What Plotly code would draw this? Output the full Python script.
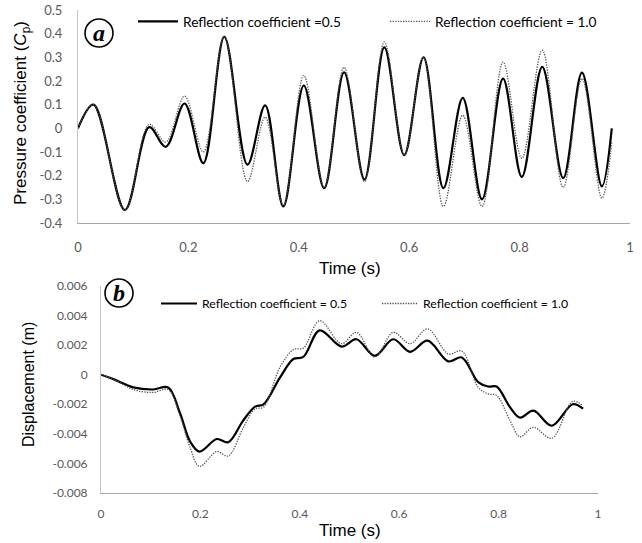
import plotly.graph_objects as go

W, H = 642, 543

# ---------- Panel (a): pressure coefficient ----------
time_a = [0, 0.028, 0.085, 0.129, 0.159, 0.193, 0.227, 0.265, 0.307, 0.339, 0.372,
          0.409, 0.446, 0.482, 0.519, 0.555, 0.591, 0.626, 0.662, 0.697, 0.732,
          0.770, 0.804, 0.841, 0.879, 0.913, 0.949, 0.967]
cp_r05 = [0, 0.10, -0.345, 0.005, -0.078, 0.105, -0.147, 0.387, -0.153, 0.097, -0.33,
          0.181, -0.253, 0.237, -0.216, 0.342, -0.113, 0.30, -0.253, 0.129, -0.30,
          0.21, -0.205, 0.26, -0.21, 0.235, -0.245, 0.0]
cp_r10 = [0, 0.10, -0.345, 0.017, -0.058, 0.136, -0.10, 0.39, -0.225, 0.047, -0.325,
          0.223, -0.25, 0.258, -0.225, 0.365, -0.113, 0.30, -0.33, 0.055, -0.33,
          0.28, -0.127, 0.33, -0.25, 0.21, -0.295, -0.06]

# ---------- Panel (b): displacement ----------
time_b = [0, 0.025, 0.065, 0.105, 0.135, 0.159, 0.179, 0.198, 0.233, 0.256, 0.286,
          0.31, 0.327, 0.36, 0.387, 0.407, 0.44, 0.484, 0.514, 0.551, 0.588, 0.622,
          0.657, 0.699, 0.726, 0.759, 0.779, 0.796, 0.823, 0.843, 0.87, 0.907, 0.949, 0.970]
disp_r05 = [0, -0.0003, -0.00086, -0.001, -0.00086, -0.0026, -0.0045, -0.0052, -0.00435,
            -0.00457, -0.0031, -0.00216, -0.002, -0.0002, 0.00106, 0.0012, 0.003, 0.0019,
            0.0024, 0.00128, 0.0024, 0.00155, 0.0023, 0.0009, 0.00117, -0.0005, -0.0008,
            -0.0008, -0.0022, -0.0029, -0.00243, -0.00345, -0.002, -0.0023]
disp_r10 = [0, -0.0003, -0.001, -0.0012, -0.001, -0.0028, -0.0049, -0.0062, -0.0052,
            -0.0055, -0.0036, -0.0023, -0.0022, 0.0005, 0.0017, 0.0018, 0.00365, 0.0021,
            0.00286, 0.0012, 0.00286, 0.0021, 0.0031, 0.0014, 0.0016, -0.00086, -0.0013,
            -0.0014, -0.0031, -0.0042, -0.00356, -0.0043, -0.0018, -0.0021]

series_names = ["Reflection coefficient =0.5", "Reflection coefficient = 1.0"]
series_names_b = ["Reflection coefficient = 0.5", "Reflection coefficient = 1.0"]

x_ticks = [0, 0.2, 0.4, 0.6, 0.8, 1]
x_ticktext = ["0", "0.2", "0.4", "0.6", "0.8", "1"]
ya_ticks = [0.5, 0.4, 0.3, 0.2, 0.1, 0, -0.1, -0.2, -0.3, -0.4]
ya_ticktext = ["0.5", "0.4", "0.3", "0.2", "0.1", "0", "-0.1", "-0.2", "-0.3", "-0.4"]
yb_ticks = [0.006, 0.004, 0.002, 0, -0.002, -0.004, -0.006, -0.008]
yb_ticktext = ["0.006", "0.004", "0.002", "0", "-0.002", "-0.004", "-0.006", "-0.008"]

SOLID = dict(color="#000000", width=2.2, shape="spline", smoothing=1.0)
DOT = dict(color="#555555", width=1.3, dash="1.3px,1.3px", shape="spline", smoothing=1.0)

fig = go.Figure()
fig.add_trace(go.Scatter(x=time_a, y=cp_r05, mode="lines", name=series_names[0],
                         line=SOLID, xaxis="x", yaxis="y", legend="legend"))
fig.add_trace(go.Scatter(x=time_a, y=cp_r10, mode="lines", name=series_names[1],
                         line=DOT, xaxis="x", yaxis="y", legend="legend"))
fig.add_trace(go.Scatter(x=time_b, y=disp_r05, mode="lines", name=series_names_b[0],
                         line=SOLID, xaxis="x2", yaxis="y2", legend="legend2"))
fig.add_trace(go.Scatter(x=time_b, y=disp_r10, mode="lines", name=series_names_b[1],
                         line=DOT, xaxis="x2", yaxis="y2", legend="legend2"))

def px_x(p):
    return p / W

def px_y(p):
    return 1 - p / H

tickfont_a = dict(family="Lato", size=13, color="#595959")
tickfont_b = dict(family="Lato", size=12, color="#595959")

common = dict(showgrid=False, zeroline=False, showline=True, linewidth=1, ticks="",
              automargin=False)

fig.update_layout(
    template="none",
    width=W, height=H,
    margin=dict(l=0, r=0, t=0, b=0, autoexpand=False),
    paper_bgcolor="white", plot_bgcolor="white",
    xaxis=dict(domain=[px_x(78), px_x(630)], range=[0, 1], anchor="y",
               tickvals=x_ticks, ticktext=x_ticktext, tickfont=tickfont_a,
               linecolor="#a6a6a6", ticklabelstandoff=12, **common),
    yaxis=dict(domain=[px_y(223), px_y(10)], range=[-0.4, 0.5], anchor="x",
               tickvals=ya_ticks, ticktext=ya_ticktext, tickfont=tickfont_a,
               linecolor="#c8c8c8", ticklabelstandoff=12, **common),
    xaxis2=dict(domain=[px_x(101), px_x(598)], range=[0, 1], anchor="y2",
                tickvals=x_ticks, ticktext=x_ticktext, tickfont=tickfont_b,
                linecolor="#a6a6a6", ticklabelstandoff=10, **common),
    yaxis2=dict(domain=[px_y(493), px_y(286)], range=[-0.008, 0.006], anchor="x2",
                tickvals=yb_ticks, ticktext=yb_ticktext, tickfont=tickfont_b,
                linecolor="#c8c8c8", ticklabelstandoff=10, **common),
    legend=dict(orientation="h", x=px_x(133), y=px_y(6), xanchor="left", yanchor="top",
                font=dict(family="Lato", size=13.7, color="#000"), itemwidth=40,
                bgcolor="rgba(0,0,0,0)", entrywidth=197, entrywidthmode="pixels"),
    legend2=dict(orientation="h", x=px_x(156), y=px_y(289), xanchor="left", yanchor="top",
                 font=dict(family="Lato", size=12.3, color="#000"), itemwidth=36,
                 bgcolor="rgba(0,0,0,0)", entrywidth=170, entrywidthmode="pixels"),
    showlegend=True,
)

def ann(text, x, y, size, angle=0, family="Liberation Sans"):
    return dict(text=text, x=px_x(x), y=px_y(y), xref="paper", yref="paper",
                xanchor="center", yanchor="middle", textangle=angle, showarrow=False,
                font=dict(family=family, size=size, color="#000"))

annotations = [
    ann("Time (s)", 350, 268, 17),
    ann("Time (s)", 350, 530, 17),
    ann("Pressure coefficient (<i>C</i><sub>p</sub>)", 22, 113, 17, -90),
    ann("Displacement (m)", 28, 385, 16, -90),
    ann("<b><i>a</i></b>", 99, 33, 24, family="Liberation Serif"),
    ann("<b><i>b</i></b>", 119, 293, 24, family="Liberation Serif"),
]
fig.update_layout(annotations=annotations)

r = 14
shapes = []
for cx, cy in [(99, 33), (119, 293)]:
    shapes.append(dict(type="circle", xref="paper", yref="paper",
                       x0=px_x(cx - r), x1=px_x(cx + r), y0=px_y(cy + r), y1=px_y(cy - r),
                       line=dict(color="#000", width=1.6)))
fig.update_layout(shapes=shapes)

page_css = ("document.documentElement.style.margin='0';"
            "document.documentElement.style.padding='0';"
            "document.documentElement.style.overflow='hidden';"
            "document.body.style.margin='0';"
            "document.body.style.padding='0';"
            "document.body.style.overflow='hidden';")

fig.write_html("out.html", post_script=page_css,
               config={"displayModeBar": False, "responsive": False})
